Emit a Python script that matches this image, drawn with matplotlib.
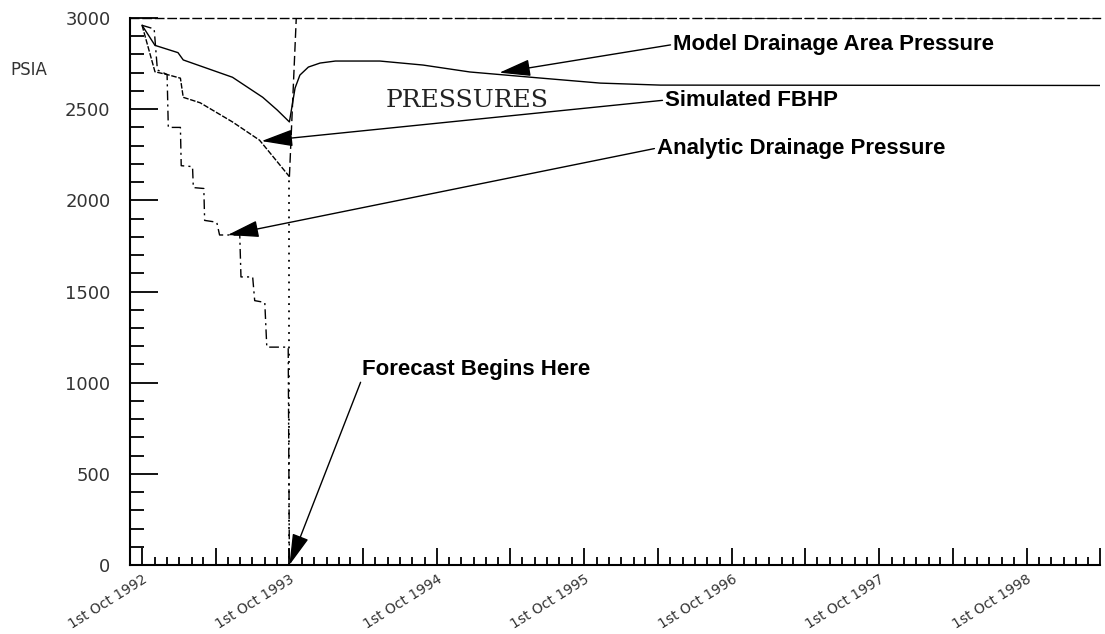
import matplotlib
matplotlib.use("Agg")
import matplotlib.pyplot as plt
import matplotlib.dates as mdates
import pandas as pd
from matplotlib.ticker import MultipleLocator

# ---- data ----
model_dates = ["1992-10-01", "1992-11-02", "1992-12-29", "1993-01-11", "1993-05-13",
               "1993-07-27", "1993-09-01", "1993-10-01", "1993-10-08", "1993-10-15",
               "1993-10-27", "1993-11-17", "1993-12-16", "1994-01-23", "1994-05-13",
               "1994-08-28", "1994-12-22", "1995-06-13", "1995-11-10", "1996-04-07",
               "1999-04-01"]
model_psia = [2960, 2850, 2810, 2770, 2675, 2565, 2495, 2430, 2523, 2616,
              2687, 2731, 2753, 2764, 2764, 2742, 2704, 2671, 2643, 2632, 2630]

fbhp_dates = ["1992-10-01", "1992-11-02", "1992-12-02", "1993-01-04", "1993-01-11",
              "1993-02-22", "1993-05-13", "1993-07-19", "1993-08-14", "1993-10-01"]
fbhp_psia = [2960, 2705, 2690, 2670, 2565, 2535, 2430, 2330, 2260, 2130]

fbhp_fc_dates = ["1993-10-01", "1993-10-18", "1999-04-01"]
fbhp_fc_psia = [2130, 3000, 3000]

analytic_dates = ["1992-10-01", "1992-10-31", "1992-11-08", "1992-12-02", "1992-12-05",
                  "1993-01-04", "1993-01-06", "1993-02-03", "1993-02-05", "1993-03-03",
                  "1993-03-05", "1993-04-04", "1993-04-11", "1993-05-31", "1993-06-03",
                  "1993-07-02", "1993-07-07", "1993-08-01", "1993-08-06", "1993-09-28",
                  "1993-10-01"]
analytic_psia = [2960, 2940, 2715, 2690, 2400, 2400, 2190, 2185, 2070, 2065,
                 1890, 1880, 1810, 1810, 1580, 1580, 1450, 1440, 1195, 1195, 0]

forecast_dates = ["1993-10-01", "1993-10-01"]
forecast_psia = [0, 2130]

tick_dates = pd.date_range("1992-10-01", "1999-04-01", freq="6MS")
tick_labels = [f"1st Oct {d.year}" if d.month == 10 else "" for d in tick_dates]

to_dt = pd.to_datetime

fig = plt.figure(figsize=(11.05, 6.34), dpi=100)
ax = fig.add_axes([0.1176, 0.1088, 0.8779, 0.8628])

ax.plot(to_dt(model_dates), model_psia, color='black', lw=1.0)
ax.plot(to_dt(fbhp_dates), fbhp_psia, color='black', lw=1.0, linestyle=(0, (4, 1.2)))
ax.plot(to_dt(fbhp_fc_dates), fbhp_fc_psia, color='black', lw=1.0, linestyle=(0, (7, 3)))
ax.plot(to_dt(analytic_dates), analytic_psia, color='black', lw=1.0,
        linestyle=(0, (7, 3, 1.5, 3)))
ax.plot(to_dt(forecast_dates), forecast_psia, color='black', lw=1.3, linestyle=(0, (1, 3)))

ax.set_xlim(to_dt("1992-09-01"), to_dt("1999-04-01"))
ax.set_ylim(0, 3000)

# 坐标轴样式
for s in ['left', 'bottom']:
    ax.spines[s].set_linewidth(1.5)
ax.spines['right'].set_visible(False)
ax.spines['top'].set_linestyle((0, (6, 3)))
ax.spines['top'].set_linewidth(1.0)

ax.yaxis.set_major_locator(MultipleLocator(500))
ax.yaxis.set_minor_locator(MultipleLocator(100))
ax.xaxis.set_minor_locator(mdates.MonthLocator())
ax.set_xticks(tick_dates)
ax.set_xticklabels(tick_labels, rotation=32, ha='right', va='top', rotation_mode='anchor')

ax.tick_params(axis='y', which='major', direction='in', length=20, width=1.3,
               pad=14, labelsize=13, labelcolor='#333333')
ax.tick_params(axis='y', which='minor', direction='in', length=10, width=1.3)
ax.tick_params(axis='x', which='major', direction='in', length=12, width=1.3,
               pad=5, labelsize=10, labelcolor='#333333')
ax.tick_params(axis='x', which='minor', direction='in', length=6, width=1.3)
ax.tick_params(top=False, right=False, which='both')

fig.text(10 / 1105, 1 - 70 / 634, 'PSIA', fontsize=12, color='#333333', va='center')

ann_font = dict(family=['Liberation Sans Narrow', 'Liberation Sans', 'DejaVu Sans'],
                fontweight='bold', fontsize=16, color='black')
arrow = dict(arrowstyle='-|>,head_length=1.3,head_width=0.35', color='black',
             lw=1.0, mutation_scale=15, shrinkA=0, shrinkB=0)

ax.annotate('Model Drainage Area Pressure', xy=(to_dt("1995-03-05"), 2700),
            xytext=(to_dt("1996-05-09"), 2855), ha='left', va='center',
            arrowprops=dict(arrow, relpos=(0, 0.5)), **ann_font)
ax.annotate('Simulated FBHP', xy=(to_dt("1993-07-24"), 2325),
            xytext=(to_dt("1996-04-19"), 2550), ha='left', va='center',
            arrowprops=dict(arrow, relpos=(0, 0.5)), **ann_font)
ax.annotate('Analytic Drainage Pressure', xy=(to_dt("1993-05-01"), 1810),
            xytext=(to_dt("1996-03-30"), 2287), ha='left', va='center',
            arrowprops=dict(arrow, relpos=(0, 0.5)), **ann_font)
ax.annotate('Forecast Begins Here', xy=(to_dt("1993-10-01"), 0),
            xytext=(to_dt("1994-03-29"), 1075), ha='left', va='center',
            arrowprops=dict(arrow, relpos=(0, 0)), **ann_font)

ax.text(to_dt("1994-12-15"), 2550, 'PRESSURES', family='DejaVu Serif',
        fontsize=18, ha='center', va='center', color='#222222')

fig.savefig('out.png', dpi=100, facecolor='white')
